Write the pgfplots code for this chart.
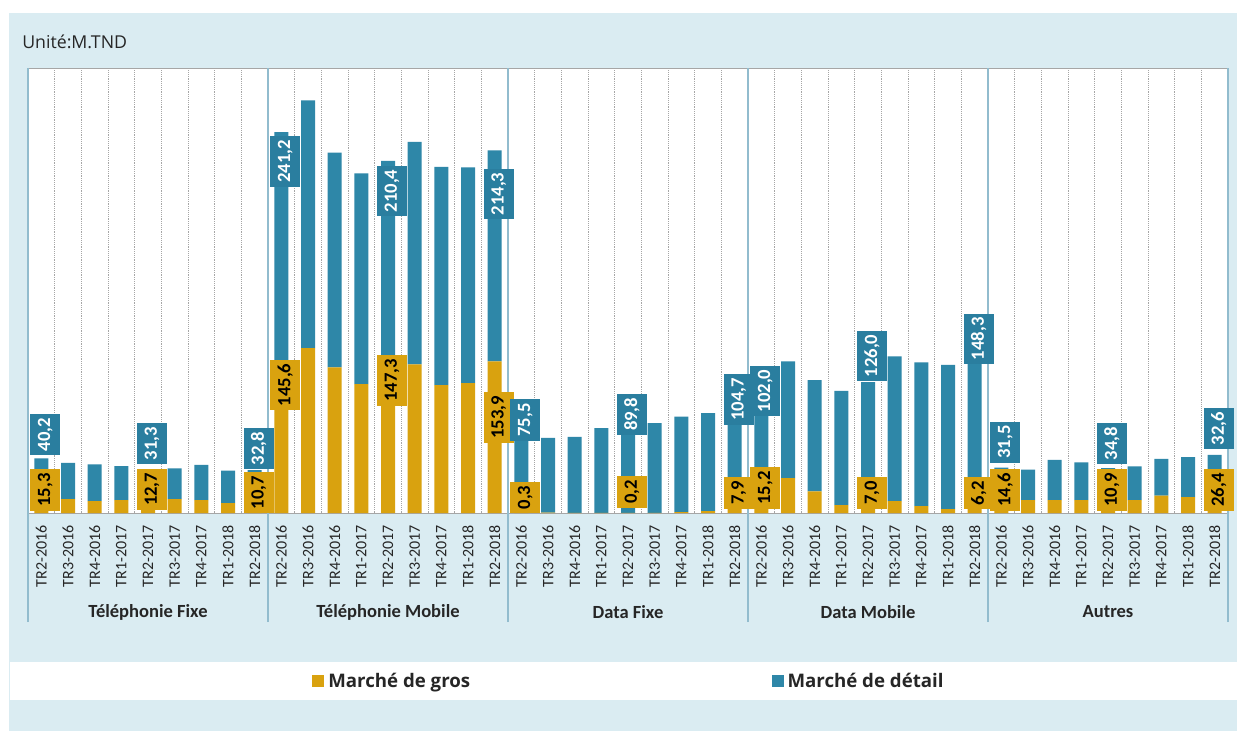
\documentclass[border=0pt]{standalone}
\usepackage{pgfplots}
\pgfplotsset{compat=1.18}
\usepackage{fontspec}
\setmainfont{Carlito}
\newfontfamily\osans{Open Sans}
\definecolor{gros}{HTML}{D9A20F}
\definecolor{detail}{HTML}{2E87A8}
\definecolor{detailbox}{HTML}{2A7E9F}
\definecolor{bgblue}{HTML}{DAECF2}
\definecolor{sepcol}{HTML}{92BCCE}
\definecolor{framegray}{HTML}{A6A6A6}
\definecolor{txt}{HTML}{262626}
\begin{document}
\begin{tikzpicture}
\fill[white] (0pt,0pt) rectangle (927.75pt,548.25pt);
\fill[bgblue] (6.75pt,0pt) rectangle (927.75pt,538.5pt);
\fill[white] (7.5pt,23.25pt) rectangle (927.75pt,51.75pt);
\node[anchor=west, inner sep=0pt, text=txt, font=\osans\fontsize{13.3}{16}\selectfont] at (16.5pt,516.75pt) {Unité:M.TND};
\begin{axis}[
  at={(21pt,163.5pt)}, anchor=south west, scale only axis,
  width=900pt, height=333.75pt,
  xmin=-0.5, xmax=44.5, ymin=0, ymax=452,
  ybar stacked, bar width=10.5pt,
  axis background/.style={fill=white},
  axis line style={draw=framegray},
  ytick=\empty,
  xtick pos=lower,
  xtick={0,...,44},
  xticklabels={TR2-2016,TR3-2016,TR4-2016,TR1-2017,TR2-2017,TR3-2017,TR4-2017,TR1-2018,TR2-2018,
               TR2-2016,TR3-2016,TR4-2016,TR1-2017,TR2-2017,TR3-2017,TR4-2017,TR1-2018,TR2-2018,
               TR2-2016,TR3-2016,TR4-2016,TR1-2017,TR2-2017,TR3-2017,TR4-2017,TR1-2018,TR2-2018,
               TR2-2016,TR3-2016,TR4-2016,TR1-2017,TR2-2017,TR3-2017,TR4-2017,TR1-2018,TR2-2018,
               TR2-2016,TR3-2016,TR4-2016,TR1-2017,TR2-2017,TR3-2017,TR4-2017,TR1-2018,TR2-2018},
  xticklabel style={rotate=90, anchor=east, inner sep=0pt, text=txt, font=\fontsize{12}{14}\selectfont},
  xticklabel shift=9pt,
  major tick length=0pt, minor tick length=0pt,
  minor xtick={0.5,1.5,...,43.5},
  xminorgrids=true,
  minor x grid style={draw=gray!70, densely dotted, line width=0.6pt},
  extra x ticks={-0.5,8.5,17.5,26.5,35.5,44.5},
  extra x tick labels={},
  extra x tick style={grid=major, major grid style={draw=sepcol, line width=0.8pt},
     major tick length=81.75pt, tick align=outside, tick style={draw=sepcol, line width=0.8pt}},
  legend style={at={(0.2367,-0.3775)}, anchor=west, draw=none, fill=none, inner sep=0pt,
     legend columns=2, font=\osans\bfseries\fontsize{14}{16}\selectfont, text=txt,
     nodes={inner xsep=3pt, inner ysep=0pt},
     /tikz/every even column/.append style={column sep=223pt}},
  legend image code/.code={\fill[#1] (0pt,-4.5pt) rectangle (9pt,4.5pt);},
  clip=false,
]
\addplot[fill=gros, draw=none] coordinates {
 (0,15.3) (1,14) (2,12) (3,13) (4,12.7) (5,14) (6,13) (7,10) (8,10.7)
 (9,145.6) (10,167.5) (11,148) (12,131) (13,147.3) (14,151) (15,130) (16,132) (17,153.9)
 (18,0.3) (19,0.3) (20,0.2) (21,0.2) (22,0.2) (23,0.2) (24,1) (25,2) (26,7.9)
 (27,15.2) (28,35.5) (29,22) (30,8) (31,7.0) (32,12) (33,7) (34,4) (35,6.2)
 (36,14.6) (37,13) (38,13) (39,13) (40,10.9) (41,13) (42,17.6) (43,16) (44,26.4)};
\addlegendentry{Marché de gros}
\addplot[fill=detail, draw=none] coordinates {
 (0,40.2) (1,37) (2,37.5) (3,34.7) (4,31.3) (5,31.4) (6,36) (7,33) (8,32.8)
 (9,241.2) (10,251.5) (11,218) (12,214) (13,210.4) (14,226) (15,221.6) (16,219) (17,214.3)
 (18,75.5) (19,76) (20,77) (21,86) (22,89.8) (23,91) (24,97) (25,99.5) (26,104.7)
 (27,102.0) (28,118.5) (29,113) (30,116) (31,126.0) (32,147) (33,146) (34,146.5) (35,148.3)
 (36,31.5) (37,31) (38,41) (39,38.4) (40,34.8) (41,34.3) (42,37.4) (43,40.8) (44,32.6)};
\addlegendentry{Marché de détail}
\node[font=\bfseries\fontsize{13.9}{16}\selectfont, text=txt] at (axis cs:4,0) [yshift=-74.25pt] {Téléphonie Fixe};
\node[font=\bfseries\fontsize{13.9}{16}\selectfont, text=txt] at (axis cs:13,0) [yshift=-74.25pt] {Téléphonie Mobile};
\node[font=\bfseries\fontsize{13.9}{16}\selectfont, text=txt] at (axis cs:22,0) [yshift=-74.25pt] {Data Fixe};
\node[font=\bfseries\fontsize{13.9}{16}\selectfont, text=txt] at (axis cs:31,0) [yshift=-74.25pt] {Data Mobile};
\node[font=\bfseries\fontsize{13.9}{16}\selectfont, text=txt] at (axis cs:40,0) [yshift=-74.25pt] {Autres};
\end{axis}
\begin{axis}[
  at={(21pt,163.5pt)}, anchor=south west, scale only axis,
  width=900pt, height=333.75pt,
  xmin=-0.5, xmax=44.5, ymin=0, ymax=452,
  hide axis, clip=false,
  nodes near coords, point meta=explicit symbolic,
  nodes near coords align=center,
]
\addplot[draw=none, mark=none, nodes near coords style={anchor=center, xshift=3pt, rotate=90, fill=gros, text=black,
   font=\bfseries\fontsize{14}{16}\selectfont, inner xsep=3pt, inner ysep=0pt, minimum height=22.5pt}]
 coordinates {
 (0,23.4) [15,3] (4,24) [12,7] (8,20.8) [10,7]
 (9,130) [145,6] (13,134.5) [147,3] (17,97) [153,9]
 (18,15.7) [0,3] (22,21.3) [0,2] (26,20.3) [7,9]
 (27,25.4) [15,2] (31,20.3) [7,0] (35,20) [6,2]
 (36,23.4) [14,6] (40,23.4) [10,9] (44,23.4) [26,4]};
\addplot[draw=none, mark=none, nodes near coords style={anchor=center, xshift=3pt, rotate=90, fill=detailbox, text=white,
   font=\bfseries\fontsize{14}{16}\selectfont, inner xsep=3pt, inner ysep=0pt, minimum height=22.5pt}]
 coordinates {
 (0,79.7) [40,2] (4,70.4) [31,3] (8,65.3) [32,8]
 (9,357) [241,2] (13,327) [210,4] (17,324) [214,3]
 (18,94.4) [75,5] (22,100.2) [89,8] (26,115.4) [104,7]
 (27,123.9) [102,0] (31,159.4) [126,0] (35,176.9) [148,3]
 (36,72) [31,5] (40,70.3) [34,8] (44,85.6) [32,6]};
\end{axis}
\end{tikzpicture}
\end{document}
